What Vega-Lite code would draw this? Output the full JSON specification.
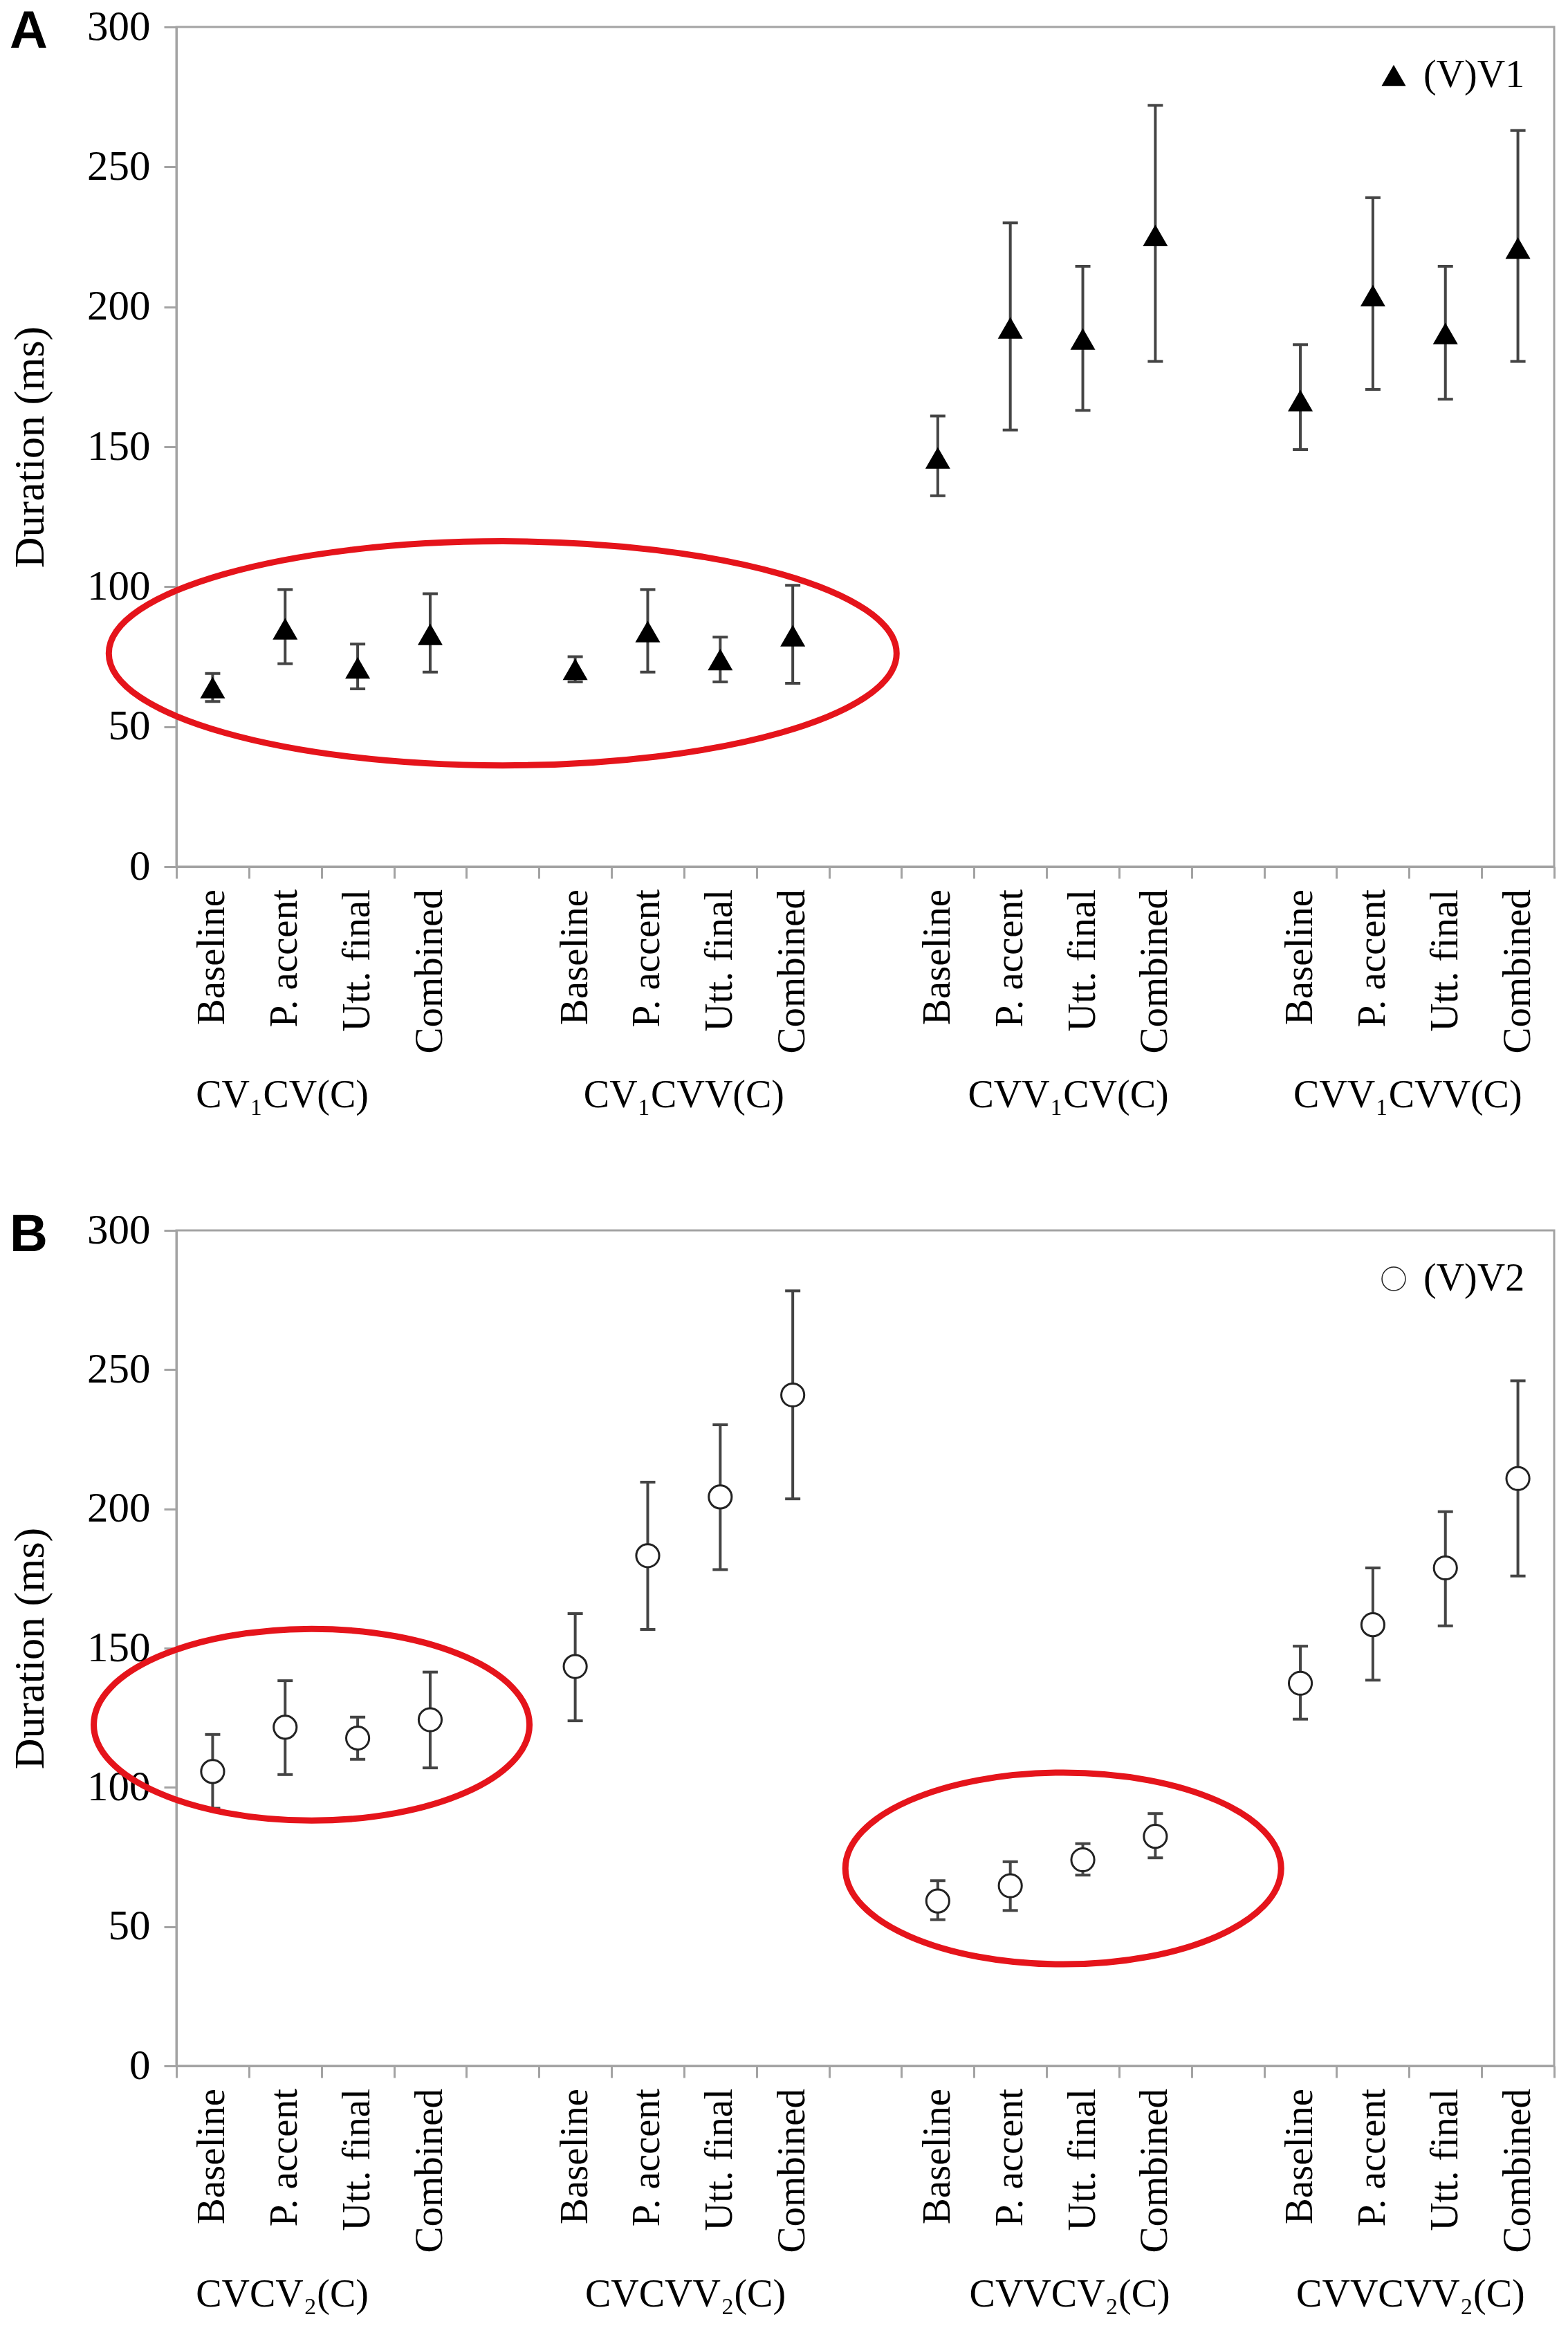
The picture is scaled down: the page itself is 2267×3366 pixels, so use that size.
{
  "$schema": "https://vega.github.io/schema/vega-lite/v6.json",
  "background": "white",
  "padding": {"left": 11, "top": 6, "right": 20, "bottom": 10},
  "config": {
    "view": {"stroke": "#a3a3a3", "strokeWidth": 3},
    "axis": {
      "grid": false,
      "domainColor": "#a3a3a3",
      "domainWidth": 3,
      "tickColor": "#a3a3a3",
      "tickWidth": 3,
      "labelColor": "black",
      "titleColor": "black",
      "labelFont": "Liberation Serif",
      "titleFont": "Liberation Serif",
      "titleFontWeight": "normal"
    },
    "legend": {
      "orient": "top-right",
      "offset": 42,
      "padding": 0,
      "labelFont": "Liberation Serif",
      "labelFontSize": 56,
      "labelColor": "black",
      "labelOffset": 15
    },
    "title": {"font": "Liberation Sans", "fontSize": 76, "fontWeight": "bold", "color": "black"}
  },
  "resolve": {"scale": {"shape": "independent"}, "legend": {"shape": "independent"}},
  "datasets": {
    "panelA": [
      {"group": "CV₁CV(C)", "condition": "Baseline", "slot": 0, "mean": 64, "lo": 59, "hi": 69, "series": "(V)V1"},
      {"group": "CV₁CV(C)", "condition": "P. accent", "slot": 1, "mean": 85, "lo": 72.5, "hi": 99, "series": "(V)V1"},
      {"group": "CV₁CV(C)", "condition": "Utt. final", "slot": 2, "mean": 71, "lo": 63.5, "hi": 79.5, "series": "(V)V1"},
      {"group": "CV₁CV(C)", "condition": "Combined", "slot": 3, "mean": 83, "lo": 69.5, "hi": 97.5, "series": "(V)V1"},
      {"group": "CV₁CVV(C)", "condition": "Baseline", "slot": 5, "mean": 70.5, "lo": 66, "hi": 75, "series": "(V)V1"},
      {"group": "CV₁CVV(C)", "condition": "P. accent", "slot": 6, "mean": 84, "lo": 69.5, "hi": 99, "series": "(V)V1"},
      {"group": "CV₁CVV(C)", "condition": "Utt. final", "slot": 7, "mean": 74, "lo": 66, "hi": 82, "series": "(V)V1"},
      {"group": "CV₁CVV(C)", "condition": "Combined", "slot": 8, "mean": 82.5, "lo": 65.5, "hi": 100.5, "series": "(V)V1"},
      {"group": "CVV₁CV(C)", "condition": "Baseline", "slot": 10, "mean": 146, "lo": 132.5, "hi": 161, "series": "(V)V1"},
      {"group": "CVV₁CV(C)", "condition": "P. accent", "slot": 11, "mean": 192.5, "lo": 156, "hi": 230, "series": "(V)V1"},
      {"group": "CVV₁CV(C)", "condition": "Utt. final", "slot": 12, "mean": 188.5, "lo": 163, "hi": 214.5, "series": "(V)V1"},
      {"group": "CVV₁CV(C)", "condition": "Combined", "slot": 13, "mean": 225.5, "lo": 180.5, "hi": 272, "series": "(V)V1"},
      {"group": "CVV₁CVV(C)", "condition": "Baseline", "slot": 15, "mean": 166.5, "lo": 149, "hi": 186.5, "series": "(V)V1"},
      {"group": "CVV₁CVV(C)", "condition": "P. accent", "slot": 16, "mean": 204, "lo": 170.5, "hi": 239, "series": "(V)V1"},
      {"group": "CVV₁CVV(C)", "condition": "Utt. final", "slot": 17, "mean": 190.5, "lo": 167, "hi": 214.5, "series": "(V)V1"},
      {"group": "CVV₁CVV(C)", "condition": "Combined", "slot": 18, "mean": 221, "lo": 180.5, "hi": 263, "series": "(V)V1"}
    ],
    "panelB": [
      {"group": "CVCV₂(C)", "condition": "Baseline", "slot": 0, "mean": 105.7, "lo": 92.5, "hi": 119, "series": "(V)V2"},
      {"group": "CVCV₂(C)", "condition": "P. accent", "slot": 1, "mean": 121.6, "lo": 104.6, "hi": 138.3, "series": "(V)V2"},
      {"group": "CVCV₂(C)", "condition": "Utt. final", "slot": 2, "mean": 117.7, "lo": 110.1, "hi": 125.2, "series": "(V)V2"},
      {"group": "CVCV₂(C)", "condition": "Combined", "slot": 3, "mean": 124.3, "lo": 107, "hi": 141.4, "series": "(V)V2"},
      {"group": "CVCVV₂(C)", "condition": "Baseline", "slot": 5, "mean": 143.4, "lo": 123.9, "hi": 162.4, "series": "(V)V2"},
      {"group": "CVCVV₂(C)", "condition": "P. accent", "slot": 6, "mean": 183.2, "lo": 156.7, "hi": 209.6, "series": "(V)V2"},
      {"group": "CVCVV₂(C)", "condition": "Utt. final", "slot": 7, "mean": 204.3, "lo": 178.2, "hi": 230.2, "series": "(V)V2"},
      {"group": "CVCVV₂(C)", "condition": "Combined", "slot": 8, "mean": 240.9, "lo": 203.6, "hi": 278.3, "series": "(V)V2"},
      {"group": "CVVCV₂(C)", "condition": "Baseline", "slot": 10, "mean": 59.2, "lo": 52.5, "hi": 66.5, "series": "(V)V2"},
      {"group": "CVVCV₂(C)", "condition": "P. accent", "slot": 11, "mean": 64.7, "lo": 55.8, "hi": 73.3, "series": "(V)V2"},
      {"group": "CVVCV₂(C)", "condition": "Utt. final", "slot": 12, "mean": 74, "lo": 68.5, "hi": 79.8, "series": "(V)V2"},
      {"group": "CVVCV₂(C)", "condition": "Combined", "slot": 13, "mean": 82.4, "lo": 74.7, "hi": 90.6, "series": "(V)V2"},
      {"group": "CVVCVV₂(C)", "condition": "Baseline", "slot": 15, "mean": 137.4, "lo": 124.5, "hi": 150.7, "series": "(V)V2"},
      {"group": "CVVCVV₂(C)", "condition": "P. accent", "slot": 16, "mean": 158.4, "lo": 138.5, "hi": 178.8, "series": "(V)V2"},
      {"group": "CVVCVV₂(C)", "condition": "Utt. final", "slot": 17, "mean": 178.8, "lo": 158, "hi": 199, "series": "(V)V2"},
      {"group": "CVVCVV₂(C)", "condition": "Combined", "slot": 18, "mean": 210.9, "lo": 175.9, "hi": 246, "series": "(V)V2"}
    ],
    "groupsA": [
      {"label": "CV₁CV(C)", "slot": 0.96},
      {"label": "CV₁CVV(C)", "slot": 6.5},
      {"label": "CVV₁CV(C)", "slot": 11.8},
      {"label": "CVV₁CVV(C)", "slot": 16.48}
    ],
    "groupsB": [
      {"label": "CVCV₂(C)", "slot": 0.96},
      {"label": "CVCVV₂(C)", "slot": 6.52},
      {"label": "CVVCV₂(C)", "slot": 11.82},
      {"label": "CVVCVV₂(C)", "slot": 16.52}
    ],
    "ovalA": [
      {"slot": 4.0, "value": 76.2}
    ],
    "ovalB": [
      {"slot": 1.365, "value": 122.5},
      {"slot": 11.73, "value": 70.9}
    ]
  },
  "spacing": 526,
  "bounds": "flush",
  "vconcat": [
    {
      "width": 1992,
      "height": 1214,
      "title": {"text": "A", "anchor": "start", "frame": "group", "baseline": "alphabetic", "offset": -137, "dx": -241},
      "data": {"name": "panelA"},
      "encoding": {
        "x": {
          "field": "slot", "type": "quantitative",
          "scale": {"domain": [-0.5, 18.5], "nice": false, "zero": false},
          "axis": {
            "values": [-0.5, 0.5, 1.5, 2.5, 3.5, 4.5, 5.5, 6.5, 7.5, 8.5, 9.5, 10.5, 11.5, 12.5, 13.5, 14.5, 15.5, 16.5, 17.5, 18.5],
            "labels": false, "tickSize": 17, "title": null
          }
        }
      },
      "layer": [
        {
          "mark": {"type": "rule", "color": "#444444", "strokeWidth": 4},
          "encoding": {
            "y": {"field": "lo", "type": "quantitative", "scale": {"domain": [0, 300], "nice": false}},
            "y2": {"field": "hi"}
          }
        },
        {
          "mark": {"type": "tick", "orient": "horizontal", "size": 22, "thickness": 4, "color": "#444444", "opacity": 1},
          "encoding": {"y": {"field": "hi", "type": "quantitative"}}
        },
        {
          "mark": {"type": "tick", "orient": "horizontal", "size": 22, "thickness": 4, "color": "#444444", "opacity": 1},
          "encoding": {"y": {"field": "lo", "type": "quantitative"}}
        },
        {
          "mark": {"type": "point", "filled": true, "color": "black", "size": 1300, "opacity": 1},
          "encoding": {
            "y": {
              "field": "mean", "type": "quantitative",
              "axis": {
                "values": [0, 50, 100, 150, 200, 250, 300],
                "tickSize": 18, "labelPadding": 20, "labelFontSize": 61,
                "title": "Duration (ms)", "titleFontSize": 62, "titlePadding": 50
              }
            },
            "shape": {
              "field": "series", "type": "nominal",
              "scale": {"range": ["triangle-up"]},
              "legend": {"title": null, "symbolSize": 1225, "symbolFillColor": "black", "symbolStrokeColor": "black"}
            }
          }
        },
        {
          "mark": {"type": "text", "angle": 270, "align": "right", "baseline": "middle", "dx": -33, "font": "Liberation Serif", "fontSize": 57, "color": "black"},
          "encoding": {
            "y": {"datum": 0, "type": "quantitative"},
            "text": {"field": "condition"}
          }
        },
        {
          "data": {"name": "groupsA"},
          "mark": {"type": "text", "align": "center", "baseline": "alphabetic", "dy": 348, "font": "Liberation Serif", "fontSize": 56, "color": "black"},
          "encoding": {
            "y": {"datum": 0, "type": "quantitative"},
            "text": {"field": "label"}
          }
        },
        {
          "data": {"name": "ovalA"},
          "mark": {"type": "point", "shape": "M-1,0A1,0.2845,0,1,0,1,0A1,0.2845,0,1,0,-1,0Z", "size": 1297321, "filled": false, "stroke": "#e5141b", "strokeWidth": 9, "opacity": 1},
          "encoding": {
            "y": {"field": "value", "type": "quantitative"}
          }
        }
      ]
    },
    {
      "width": 1992,
      "height": 1208,
      "title": {"text": "B", "anchor": "start", "frame": "group", "baseline": "alphabetic", "offset": -137, "dx": -241},
      "data": {"name": "panelB"},
      "encoding": {
        "x": {
          "field": "slot", "type": "quantitative",
          "scale": {"domain": [-0.5, 18.5], "nice": false, "zero": false},
          "axis": {
            "values": [-0.5, 0.5, 1.5, 2.5, 3.5, 4.5, 5.5, 6.5, 7.5, 8.5, 9.5, 10.5, 11.5, 12.5, 13.5, 14.5, 15.5, 16.5, 17.5, 18.5],
            "labels": false, "tickSize": 17, "title": null
          }
        }
      },
      "layer": [
        {
          "mark": {"type": "rule", "color": "#444444", "strokeWidth": 4},
          "encoding": {
            "y": {"field": "lo", "type": "quantitative", "scale": {"domain": [0, 300], "nice": false}},
            "y2": {"field": "hi"}
          }
        },
        {
          "mark": {"type": "tick", "orient": "horizontal", "size": 22, "thickness": 4, "color": "#444444", "opacity": 1},
          "encoding": {"y": {"field": "hi", "type": "quantitative"}}
        },
        {
          "mark": {"type": "tick", "orient": "horizontal", "size": 22, "thickness": 4, "color": "#444444", "opacity": 1},
          "encoding": {"y": {"field": "lo", "type": "quantitative"}}
        },
        {
          "mark": {"type": "point", "fill": "white", "stroke": "#222222", "strokeWidth": 3, "size": 1100, "opacity": 1},
          "encoding": {
            "y": {
              "field": "mean", "type": "quantitative",
              "axis": {
                "values": [0, 50, 100, 150, 200, 250, 300],
                "tickSize": 18, "labelPadding": 20, "labelFontSize": 61,
                "title": "Duration (ms)", "titleFontSize": 62, "titlePadding": 50
              }
            },
            "shape": {
              "field": "series", "type": "nominal",
              "scale": {"range": ["circle"]},
              "legend": {
                "title": null, "symbolSize": 1150,
                "encode": {
                  "symbols": {
                    "update": {
                      "fill": {"value": "white"},
                      "stroke": {"value": "#333333"},
                      "strokeWidth": {"value": 2.5},
                      "opacity": {"value": 1}
                    }
                  }
                }
              }
            }
          }
        },
        {
          "mark": {"type": "text", "angle": 270, "align": "right", "baseline": "middle", "dx": -33, "font": "Liberation Serif", "fontSize": 57, "color": "black"},
          "encoding": {
            "y": {"datum": 0, "type": "quantitative"},
            "text": {"field": "condition"}
          }
        },
        {
          "data": {"name": "groupsB"},
          "mark": {"type": "text", "align": "center", "baseline": "alphabetic", "dy": 348, "font": "Liberation Serif", "fontSize": 56, "color": "black"},
          "encoding": {
            "y": {"datum": 0, "type": "quantitative"},
            "text": {"field": "label"}
          }
        },
        {
          "data": {"name": "ovalB"},
          "mark": {"type": "point", "shape": "M-1,0A1,0.44,0,1,0,1,0A1,0.44,0,1,0,-1,0Z", "size": 396900, "filled": false, "stroke": "#e5141b", "strokeWidth": 9, "opacity": 1},
          "encoding": {
            "y": {"field": "value", "type": "quantitative"}
          }
        }
      ]
    }
  ]
}
